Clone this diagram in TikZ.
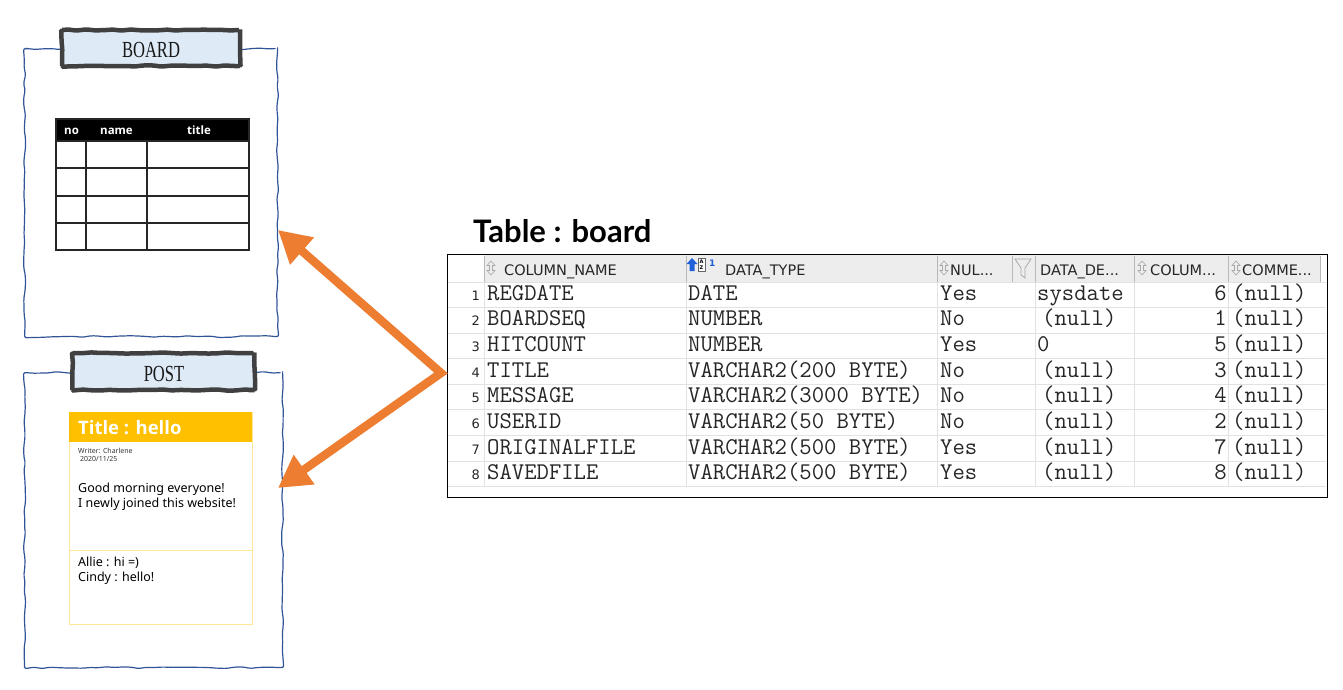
\documentclass[tikz,border=0pt]{standalone}
\usepackage{fontspec}
\setmainfont{Liberation Serif}
\newfontfamily\hdrf{DejaVu Sans}
\newfontfamily\postf{Noto Sans}
\newfontfamily\postbf{Open Sans}
\newfontfamily\ttlf{Lato}
\usetikzlibrary{arrows.meta,decorations.pathmorphing}
\definecolor{frameblue}{HTML}{2F5597}
\definecolor{boxfill}{HTML}{DEEBF7}
\definecolor{boxline}{HTML}{404040}
\definecolor{arrorange}{HTML}{ED7D31}
\definecolor{postgold}{HTML}{FFC000}
\definecolor{postline}{HTML}{FFE699}
\definecolor{hdrgray}{HTML}{EDEDED}
\definecolor{gridgray}{HTML}{E2E2E2}
\definecolor{hdrline}{HTML}{B8B8B8}
\definecolor{icongray}{HTML}{A8A8A8}
\definecolor{iconblue}{HTML}{2060D8}
\newcommand\mysort[1]{%
  \draw[icongray, line width=0.6pt, shift={(#1)}] (0,-7) -- (4,-2.5) -- (1.5,-2.5) -- (1.5,2.5) -- (4,2.5) -- (0,7) -- (-4,2.5) -- (-1.5,2.5) -- (-1.5,-2.5) -- (-4,-2.5) -- cycle;}
\begin{document}
\begin{tikzpicture}[x=1pt,y=-1pt,
  wavy/.style={decorate, decoration={random steps, segment length=8pt, amplitude=1pt}, rounded corners=2pt},
  frame/.style={draw=frameblue, line width=1.2pt, wavy, anchor=north west, inner sep=0pt},
  ttlbox/.style={draw=boxline, fill=boxfill, line width=4.5pt, decorate, decoration={random steps, segment length=9pt, amplitude=0.6pt}, rounded corners=1pt, inner sep=0pt},
  ttltext/.style={font=\fontsize{23}{26}\selectfont, text=black!90},
  arr/.style={draw=arrorange, line width=8.5pt, line join=miter, {Triangle[length=32pt,width=34pt]}-{Triangle[length=32pt,width=34pt]}},
  bth/.style={inner sep=0pt, anchor=base west, text=white, font=\postbf\bfseries\fontsize{11.5}{13}\selectfont},
  tgrid/.style={draw=black!85, line width=1.2pt},
  ptxt/.style={inner sep=0pt, anchor=base west, font=\postf\fontsize{12.5}{15}\selectfont},
  psmall/.style={inner sep=0pt, anchor=base west, font=\postf\fontsize{7}{8}\selectfont, text=black!80},
  hdr/.style={inner sep=0pt, anchor=base west, font=\hdrf\fontsize{14.5}{17}\selectfont, text=black!85},
  cell/.style={inner sep=0pt, anchor=base west, font=\ttfamily\fontsize{24}{26}\selectfont, text=black!85},
  rnum/.style={inner sep=0pt, anchor=base east, font=\hdrf\fontsize{13}{15}\selectfont, text=black!85}
]
\useasboundingbox (0,0) rectangle (1343,690);
\pgfmathsetseed{7}
% ---------- BOARD frame ----------
\node[frame, minimum width=253pt, minimum height=288pt] (bframe) at (24,48) {};
\node[ttlbox, minimum width=178pt, minimum height=36pt] (bbox) at (151,48) {};
\node[ttltext, inner sep=0pt, anchor=base] (btxt) at (151,57.5) {\scalebox{0.72}[1]{BOARD}};
% inner table
\fill[black] (56,119) rectangle (249,141);
\draw[tgrid] (56,119) rectangle (249,250);
\foreach \yy in {141,168,196,223} \draw[tgrid] (56,\yy) -- (249,\yy);
\draw[tgrid] (86,141) -- (86,250);
\draw[tgrid] (147,141) -- (147,250);
\node[bth] (hno) at (64,135) {no};
\node[bth] (hname) at (100,135) {name};
\node[bth] (htitle) at (187,135) {title};
% ---------- POST frame ----------
\node[frame, minimum width=258pt, minimum height=295pt] (pframe) at (24,372) {};
\node[ttlbox, minimum width=182pt, minimum height=37pt] (pbox) at (163.5,371.5) {};
\node[ttltext, inner sep=0pt, anchor=base] (ptxt) at (164,381.5) {\scalebox{0.72}[1]{POST}};
% post card
\node[draw=postline, line width=1pt, minimum width=183pt, minimum height=212pt, anchor=north west, inner sep=0pt] (card) at (69,412) {};
\fill[postgold] (69,412) rectangle (252,442);
\draw[postline, line width=1pt] (69,550) -- (252,550);
\node[inner sep=0pt, anchor=base west, text=white, font=\postbf\bfseries\fontsize{18.5}{22}\selectfont] (ctitle) at (78,434) {Title : hello};
\node[psmall] (cwriter) at (78,453) {Writer: Charlene};
\node[psmall] (cdate) at (80,461) {2020/11/25};
\node[ptxt] (cl1) at (78,492) {Good morning everyone!};
\node[ptxt] (cl2) at (78,507) {I newly joined this website!};
\node[ptxt] (cc1) at (78,566) {Allie : hi =)};
\node[ptxt] (cc2) at (78,581) {Cindy : hello!};
% ---------- Table title ----------
\node[inner sep=0pt, anchor=base west, font=\ttlf\bfseries\fontsize{31}{36}\selectfont] (tabttl) at (473,242) {Table : board};
% ---------- DB table ----------
\fill[hdrgray] (484,255) rectangle (1320,282);
\foreach \xx in {686,937,1012,1035,1134,1228,1320} \draw[hdrline, line width=0.8pt] (\xx,256) -- (\xx,282);
\draw[hdrline, line width=0.6pt] (484,256) -- (484,282);
\foreach \xx in {484,686,937,1035,1134,1228} \draw[gridgray, line width=0.8pt] (\xx,282) -- (\xx,486);
\foreach \yy in {282,307,333,358,384,409,435,461,486} \draw[gridgray, line width=0.8pt] (448,\yy) -- (1326,\yy);
\node[draw=black, line width=1.3pt, minimum width=880pt, minimum height=243pt, anchor=north west, inner sep=0pt] (dbtab) at (447,254) {};
% header icons
\mysort{491,268}
\mysort{944,268}
\mysort{1142,268}
\mysort{1236,268}
\fill[iconblue] (692,258) -- (697.5,264) -- (694.5,264) -- (694.5,271) -- (689.5,271) -- (689.5,264) -- (686.5,264) -- cycle;
\draw[black!60, line width=0.5pt, fill=white] (698,258) rectangle (705,271);
\node[inner sep=0pt, font=\hdrf\bfseries\fontsize{5}{5}\selectfont] (iconA) at (701.5,261.5) {A};
\node[inner sep=0pt, font=\hdrf\bfseries\fontsize{5}{5}\selectfont] (iconZ) at (701.5,267.5) {Z};
\node[inner sep=0pt, anchor=base west, text=iconblue, font=\hdrf\bfseries\fontsize{9}{10}\selectfont] (icon1) at (709,266) {1};
\draw[icongray, line width=0.8pt] (1015,259) -- (1031,259) -- (1025,268) -- (1025,278) -- (1021,275) -- (1021,268) -- cycle;
% header texts
\node[hdr] (hcn) at (504,275) {COLUMN\_NAME};
\node[hdr] (hdt) at (725,275) {DATA\_TYPE};
\node[hdr] (hnu) at (950,275) {NUL...};
\node[hdr] (hdd) at (1040,275) {DATA\_DE...};
\node[hdr] (hco) at (1150,275) {COLUM...};
\node[hdr] (hcm) at (1242,275) {COMME...};
% rows
\foreach \i/\cn/\dt/\nu/\dd/\ddx/\co in {
  1/REGDATE/DATE/Yes/sysdate/1037/6,
  2/BOARDSEQ/NUMBER/No/(null)/1042/1,
  3/HITCOUNT/NUMBER/Yes/0/1037/5,
  4/TITLE/VARCHAR2(200 BYTE)/No/(null)/1042/3,
  5/MESSAGE/VARCHAR2(3000 BYTE)/No/(null)/1042/4,
  6/USERID/VARCHAR2(50 BYTE)/No/(null)/1042/2,
  7/ORIGINALFILE/VARCHAR2(500 BYTE)/Yes/(null)/1042/7,
  8/SAVEDFILE/VARCHAR2(500 BYTE)/Yes/(null)/1042/8}{
  \pgfmathsetmacro\yb{300+(\i-1)*25.7}
  \node[rnum] (rn\i) at (480,\yb) {\i};
  \node[cell] (rc\i) at (487,\yb) {\cn};
  \node[cell] (rd\i) at (688,\yb) {\dt};
  \node[cell] (ru\i) at (940,\yb) {\nu};
  \node[cell] (rf\i) at (\ddx,\yb) {\dd};
  \node[cell, anchor=base east] (ro\i) at (1227,\yb) {\co};
  \node[cell] (rm\i) at (1232,\yb) {(null)};
}
% ---------- arrows ----------
\coordinate (src) at (441,373);
\coordinate (btip) at (278,230);
\coordinate (ptip) at (278,488);
\draw[arr] (btip) -- (src) -- (ptip);
\end{tikzpicture}
\end{document}
